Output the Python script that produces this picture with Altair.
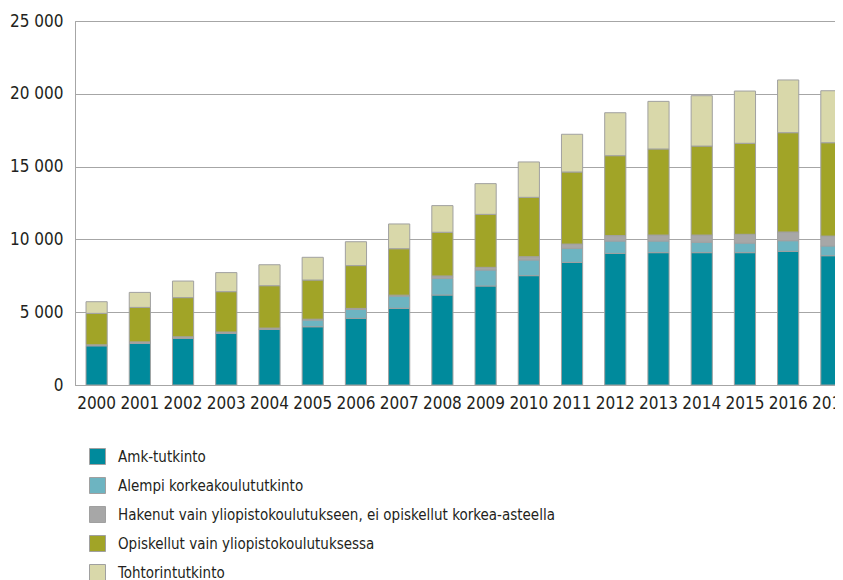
import altair as alt
import pandas as pd

years = [str(y) for y in range(2000, 2018)]
series = [
    "Amk-tutkinto",
    "Alempi korkeakoulututkinto",
    "Hakenut vain yliopistokoulutukseen, ei opiskellut korkea-asteella",
    "Opiskellut vain yliopistokoulutuksessa",
    "Tohtorintutkinto",
]
amk = [2700, 2860, 3200, 3550, 3820, 4000, 4580, 5270, 6180, 6800, 7510, 8420, 9040, 9090, 9090, 9090, 9180, 8880]
alempi = [0, 0, 0, 0, 0, 460, 620, 840, 1150, 1100, 1080, 970, 850, 800, 710, 660, 730, 670]
hakenut = [60, 100, 110, 90, 90, 60, 60, 60, 160, 180, 220, 290, 370, 410, 500, 600, 600, 680]
opiskellut = [2160, 2370, 2690, 2770, 2910, 2690, 2940, 3190, 3000, 3640, 4080, 4950, 5490, 5910, 6110, 6250, 6820, 6410]
tohtori = [800, 1030, 1140, 1310, 1440, 1560, 1640, 1700, 1830, 2110, 2430, 2590, 2950, 3270, 3460, 3590, 3620, 3570]
colors = ["#008A9C", "#6DB4C1", "#A7A7A7", "#A1A427", "#D9D8AA"]

values = [amk, alempi, hakenut, opiskellut, tohtori]
rows = []
for si, (name, vals) in enumerate(zip(series, values)):
    for y, v in zip(years, vals):
        rows.append({"vuosi": y, "sarja": name, "arvo": v, "jarj": si})
df = pd.DataFrame(rows)

FONT = "DejaVu Sans Condensed, sans-serif"

chart = alt.Chart(df).mark_bar(stroke="#A0A0A0", strokeWidth=1, clip=True).encode(
    x=alt.X("vuosi:N", sort=years, title=None,
            scale=alt.Scale(paddingInner=0.51, paddingOuter=0.255, range=[0, 778]),
            axis=alt.Axis(labelAngle=0, ticks=False, labelPadding=10, domain=True,
                          domainColor="#A6A6A6", labelFontSize=17)),
    y=alt.Y("arvo:Q", stack="zero", title=None,
            scale=alt.Scale(domain=[0, 25000]),
            axis=alt.Axis(values=[0, 5000, 10000, 15000, 20000, 25000], ticks=False,
                          labelPadding=12, domainColor="#A6A6A6", gridColor="#A6A6A6",
                          labelFontSize=17,
                          labelExpr="replace(format(datum.value, ','), ',', ' ')")),
    color=alt.Color("sarja:N", scale=alt.Scale(domain=series, range=colors),
                    legend=alt.Legend(title=None, orient="none", legendX=14, legendY=427,
                                      direction="vertical", symbolType="square",
                                      symbolSize=256, symbolStrokeColor="#A0A0A0",
                                      symbolStrokeWidth=1, labelFontSize=15,
                                      labelLimit=800, rowPadding=8, labelOffset=12)),
    order=alt.Order("jarj:Q", sort="ascending"),
).properties(
    width=760, height=364,
    autosize=alt.AutoSizeParams(type="none"),
    padding={"left": 67, "top": 13, "right": 0, "bottom": 195},
).configure_view(stroke="#A6A6A6", strokeWidth=1).configure_axis(
    labelFont=FONT, labelColor="#231F20", gridWidth=1, domainWidth=1
).configure_legend(labelFont=FONT, labelColor="#231F20")

chart.save("out.html", embed_options={"renderer": "svg", "actions": False})
